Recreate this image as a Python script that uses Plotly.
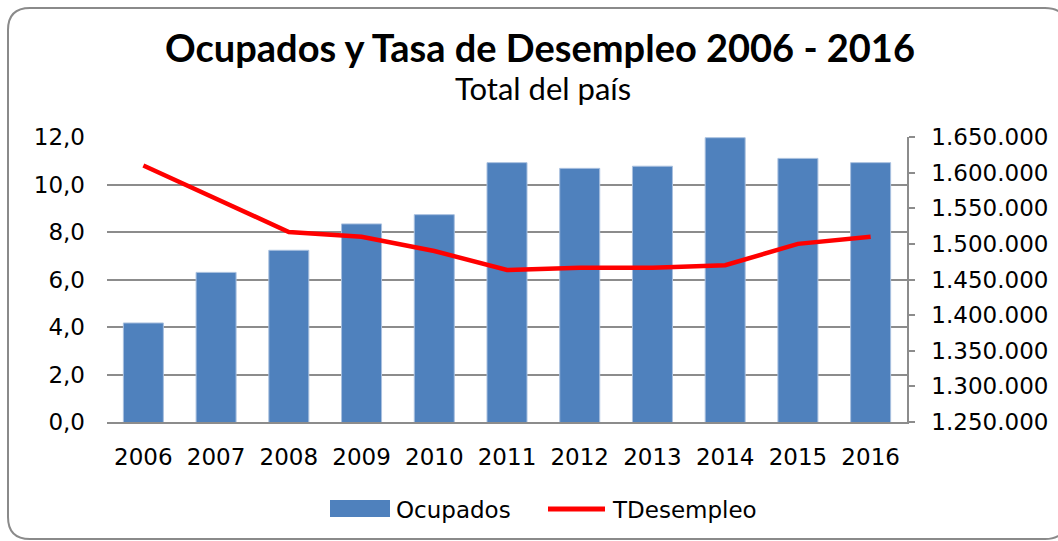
import plotly.graph_objects as go

years = ["2006", "2007", "2008", "2009", "2010", "2011", "2012", "2013", "2014", "2015", "2016"]
ocupados = [1389000, 1460000, 1491000, 1528000, 1541000, 1614000, 1606000, 1609000, 1649000, 1620000, 1614000]
tdesempleo = [10.8, 9.4, 8.0, 7.8, 7.2, 6.4, 6.5, 6.5, 6.6, 7.5, 7.8]
series_names = ["Ocupados", "TDesempleo"]

W, H = 1058, 541
L, R, T, B = 107, 907, 137, 422


def X(px):
    return (px - L) / (R - L)


def Y(py):
    return (B - py) / (B - T)


TICKFONT = dict(family="DejaVu Sans", size=23, color="#000000")
GRID = "#8c8c8c"
BAR = "#4F81BD"
LINE = "#FF0000"

fig = go.Figure()
fig.add_trace(go.Bar(
    x=years, y=ocupados, name=series_names[0], yaxis="y",
    marker=dict(color=BAR, line=dict(color="#a9c0df", width=1)),
))
fig.add_trace(go.Scatter(
    x=years, y=tdesempleo, name=series_names[1], yaxis="y2", mode="lines",
    line=dict(color=LINE, width=4.5),
))

# rounded border
x0, x1, y0, y1, r = 8, 1067, 8, 539, 22
path = (
    f"M {X(x0 + r)},{Y(y0)} L {X(x1 - r)},{Y(y0)} "
    f"Q {X(x1)},{Y(y0)} {X(x1)},{Y(y0 + r)} "
    f"L {X(x1)},{Y(y1 - r)} Q {X(x1)},{Y(y1)} {X(x1 - r)},{Y(y1)} "
    f"L {X(x0 + r)},{Y(y1)} Q {X(x0)},{Y(y1)} {X(x0)},{Y(y1 - r)} "
    f"L {X(x0)},{Y(y0 + r)} Q {X(x0)},{Y(y0)} {X(x0 + r)},{Y(y0)} Z"
)

shapes = [
    dict(type="path", xref="paper", yref="paper", path=path,
         line=dict(color="#8a8a8a", width=2), fillcolor="rgba(0,0,0,0)", layer="above"),
    # custom legend swatches
    dict(type="rect", xref="paper", yref="paper", x0=X(330), x1=X(390), y0=Y(517), y1=Y(500),
         fillcolor=BAR, line=dict(width=0)),
    dict(type="line", xref="paper", yref="paper", x0=X(548), x1=X(605), y0=Y(509), y1=Y(509),
         line=dict(color=LINE, width=5)),
]

LEGFONT = dict(family="DejaVu Sans", size=23, color="#000000")

fig.update_layout(
    width=W, height=H,
    margin=dict(l=L, r=W - R, t=T, b=H - B, pad=0, autoexpand=False),
    paper_bgcolor="white", plot_bgcolor="white",
    separators=",.",
    bargap=0.45,
    showlegend=False,
    xaxis=dict(type="category", showline=True, linecolor=GRID, linewidth=1.5, automargin=False,
               ticks="", tickfont=TICKFONT, ticklabelstandoff=14, showgrid=False),
    yaxis=dict(side="right", range=[1250000, 1650000], dtick=50000, tickformat=",d",
               showgrid=False, showline=True, linecolor=GRID, linewidth=1.5, automargin=False,
               ticks="outside", ticklen=6, tickcolor=GRID, tickwidth=1.5,
               tickfont=TICKFONT, ticklabelstandoff=12, zeroline=False),
    yaxis2=dict(side="left", overlaying="y", range=[0, 12], dtick=2, tickformat=".1f",
                showgrid=True, gridcolor=GRID, gridwidth=1.5, showline=False, automargin=False,
                ticks="", tickfont=TICKFONT, ticklabelstandoff=21, zeroline=False),
    shapes=shapes,
    annotations=[
        dict(text="<b>Ocupados y Tasa de Desempleo 2006 - 2016</b>", x=X(540), y=Y(47),
             xref="paper", yref="paper", xanchor="center", yanchor="middle", showarrow=False,
             font=dict(family="Lato", size=38, color="#000000")),
        dict(text="Total del país", x=X(543), y=Y(88),
             xref="paper", yref="paper", xanchor="center", yanchor="middle", showarrow=False,
             font=dict(family="Lato", size=31, color="#000000")),
        dict(text=series_names[0], x=X(394), y=Y(510),
             xref="paper", yref="paper", xanchor="left", yanchor="middle", showarrow=False,
             font=LEGFONT),
        dict(text=series_names[1], x=X(610), y=Y(510),
             xref="paper", yref="paper", xanchor="left", yanchor="middle", showarrow=False,
             font=LEGFONT),
    ],
)

fig.write_html("out.html")
